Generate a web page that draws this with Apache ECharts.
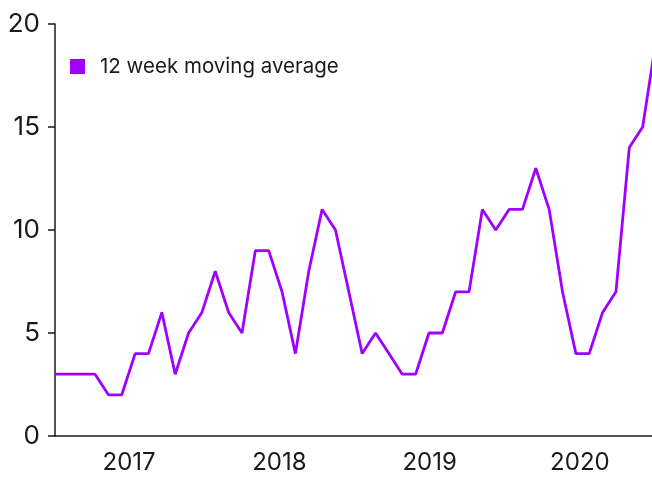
<!DOCTYPE html>
<html>
<head>
<meta charset="utf-8">
<script src="https://cdn.jsdelivr.net/npm/echarts@6/dist/echarts.min.js"></script>
<style>
html,body{margin:0;padding:0;background:#fff;}
#chart{width:652px;height:478px;}
</style>
</head>
<body>
<div id="chart"></div>
<script>
// Series values (one point per period, index-based x)
const seriesName = "12 week moving average";
const values = [3, 3, 3, 3, 2, 2, 4, 4, 6, 3, 5, 6, 8, 6, 5, 9, 9, 7, 4, 8, 11, 10, 7, 4, 5, 4, 3, 3, 5, 5, 7, 7, 11, 10, 11, 11, 13, 11, 7, 4, 4, 6, 7, 14, 15, 19.2];
// Year tick labels and their positions (in point-index units)
const yearLabels = ["2017", "2018", "2019", "2020"];
const yearPositions = [5.55, 16.8, 28.05, 39.3];
const yTicks = [0, 5, 10, 15, 20];

const FONT = "Inter, 'DejaVu Sans', sans-serif";
const lineColor = "#a000ff";
const axisColor = "#1a1a1a";

const data = values.map((v, i) => [i, v]);

const chart = echarts.init(document.getElementById('chart'), null, {renderer: 'canvas'});
chart.setOption({
  animation: false,
  backgroundColor: '#fff',
  grid: {left: 55, right: 0, top: 24, bottom: 42, containLabel: false},
  legend: {
    data: [seriesName],
    left: 70, top: 56, padding: 0,
    icon: 'rect', itemWidth: 15, itemHeight: 15,
    textStyle: {fontFamily: FONT, fontSize: 20.5, color: '#1a1a1a', padding: [0, 0, 0, 10]}
  },
  xAxis: {
    type: 'value',
    min: 0, max: 44.7,
    axisLine: {show: true, lineStyle: {color: axisColor, width: 1.5}},
    axisTick: {show: false},
    splitLine: {show: false},
    axisLabel: {
      customValues: yearPositions,
      margin: 15,
      fontFamily: FONT, fontSize: 24, color: '#1a1a1a',
      formatter: function (val) {
        let best = 0, d = Infinity;
        yearPositions.forEach((p, k) => { if (Math.abs(p - val) < d) { d = Math.abs(p - val); best = k; } });
        return yearLabels[best];
      }
    }
  },
  yAxis: {
    type: 'value',
    min: yTicks[0], max: yTicks[yTicks.length - 1], interval: 5,
    axisLine: {show: true, lineStyle: {color: axisColor, width: 1.5}},
    axisTick: {show: true, length: 7, lineStyle: {color: axisColor, width: 1.5}},
    splitLine: {show: false},
    axisLabel: {margin: 15, fontFamily: FONT, fontSize: 26, color: '#1a1a1a'}
  },
  series: [{
    name: seriesName,
    type: 'line',
    data: data,
    showSymbol: false,
    symbol: 'none',
    clip: true,
    lineStyle: {color: lineColor, width: 2.8},
    itemStyle: {color: lineColor}
  }]
});
</script>
</body>
</html>
